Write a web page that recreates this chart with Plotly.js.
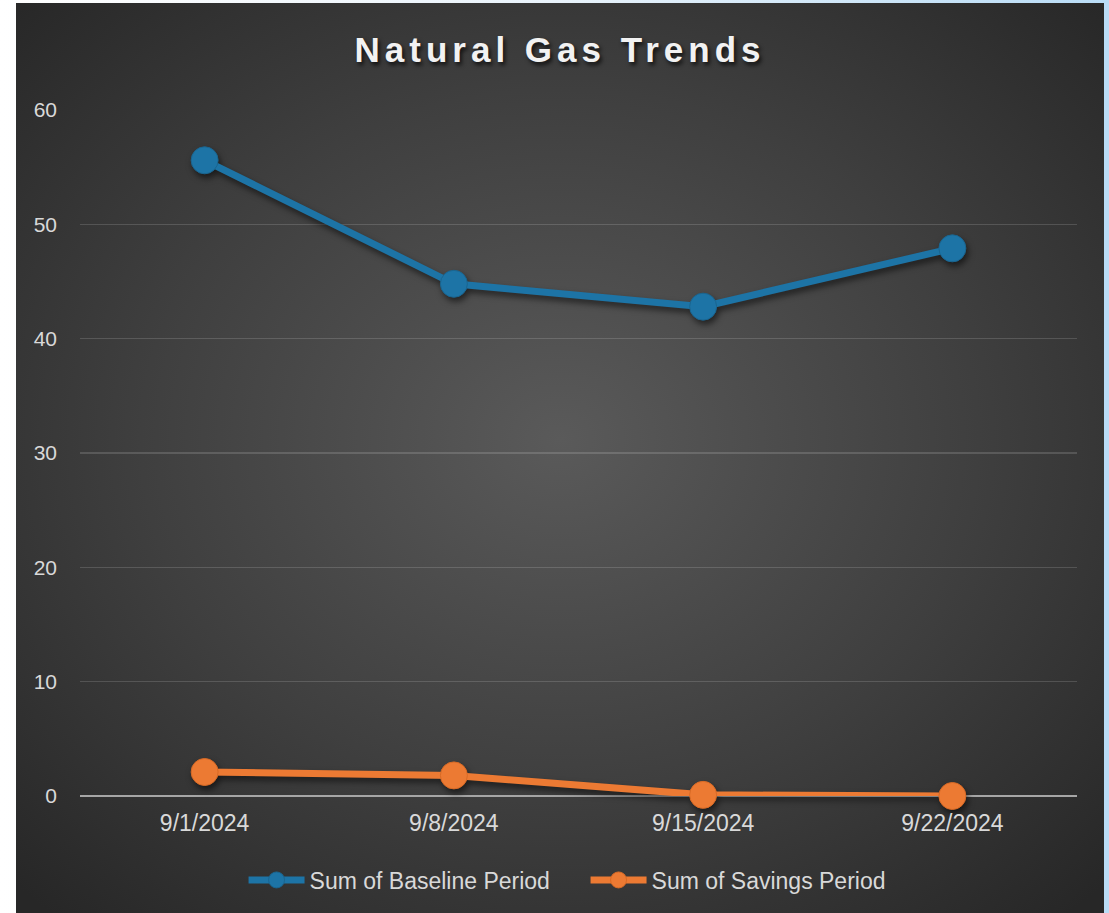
<!DOCTYPE html>
<html>
<head>
<meta charset="utf-8">
<script src="https://cdn.plot.ly/plotly-3.0.1.min.js"></script>
<style>
  html, body { margin: 0; padding: 0; }
  body {
    width: 1109px; height: 913px; overflow: hidden; position: relative;
    background: linear-gradient(90deg, #ffffff 0%, #e9f3fb 50%, #b9dcf6 100%);
  }
  #panel {
    position: absolute; left: 16px; top: 3px; width: 1088px; height: 910px;
    background: radial-gradient(ellipse 70% 70% at 50% 48%, #5a5a5a 0%, #3f3f3f 55%, #272727 100%);
  }
  #chart { position: absolute; left: 0; top: 0; width: 1109px; height: 913px; }
  #chart .gtitle { letter-spacing: 5px; text-shadow: 2px 3px 4px rgba(0,0,0,0.75); }
  #chart .scatterlayer .trace { filter: drop-shadow(2px 4px 3px rgba(0,0,0,0.55)); }
</style>
</head>
<body>
<div id="panel"></div>
<div id="chart"></div>
<script>
// Weekly natural gas totals
const weeks = ["9/1/2024", "9/8/2024", "9/15/2024", "9/22/2024"];
const baselinePeriod = [55.6, 44.8, 42.8, 47.9];
const savingsPeriod = [2.1, 1.8, 0.1, 0.0];
const yTicks = [0, 10, 20, 30, 40, 50, 60];

const blue = "#1d74a6";
const orange = "#ec7a33";

const traces = [
  {
    x: weeks, y: baselinePeriod, name: "Sum of Baseline Period",
    type: "scatter", mode: "lines+markers", cliponaxis: false,
    line: { color: blue, width: 7 },
    marker: { color: blue, size: 27, line: { color: "#1a6590", width: 1 } }
  },
  {
    x: weeks, y: savingsPeriod, name: "Sum of Savings Period",
    type: "scatter", mode: "lines+markers", cliponaxis: false,
    line: { color: orange, width: 7 },
    marker: { color: orange, size: 27, line: { color: "#d86a25", width: 1 } }
  }
];

const layout = {
  width: 1109, height: 913,
  paper_bgcolor: "rgba(0,0,0,0)",
  plot_bgcolor: "rgba(0,0,0,0)",
  margin: { l: 80, r: 32, t: 110, b: 117 },
  font: { family: "Liberation Sans, Arial, sans-serif", color: "#d9d9d9" },
  title: {
    text: "Natural Gas Trends",
    font: { family: "Liberation Sans, Arial, sans-serif", size: 35, color: "#f2f2f2", weight: "bold" },
    xref: "container", x: 0.505, xanchor: "center",
    yref: "container", y: 1 - 50 / 913, yanchor: "middle"
  },
  xaxis: {
    type: "category", range: [-0.5, 3.5],
    showgrid: false, zeroline: false, showline: false,
    ticks: "", ticklabelstandoff: 11,
    tickfont: { size: 23, color: "#d9d9d9" }
  },
  yaxis: {
    range: [0, 60], tickvals: yTicks, ticktext: yTicks.map(String),
    showgrid: true, gridcolor: "rgba(255,255,255,0.15)", gridwidth: 1.5,
    zeroline: true, zerolinecolor: "#a6a6a6", zerolinewidth: 2,
    showline: false, ticks: "", ticklabelstandoff: 22,
    tickfont: { size: 21, color: "#d9d9d9" }
  },
  showlegend: true,
  legend: {
    orientation: "h",
    xref: "container", x: 0.528, xanchor: "center",
    yref: "container", y: 1 - 880 / 913, yanchor: "middle",
    font: { size: 23, color: "#d9d9d9" },
    itemwidth: 56,
    entrywidth: 271, entrywidthmode: "pixels",
    bgcolor: "rgba(0,0,0,0)"
  },
  hovermode: false
};

Plotly.newPlot("chart", traces, layout, { displayModeBar: false, staticPlot: true });
</script>
</body>
</html>
